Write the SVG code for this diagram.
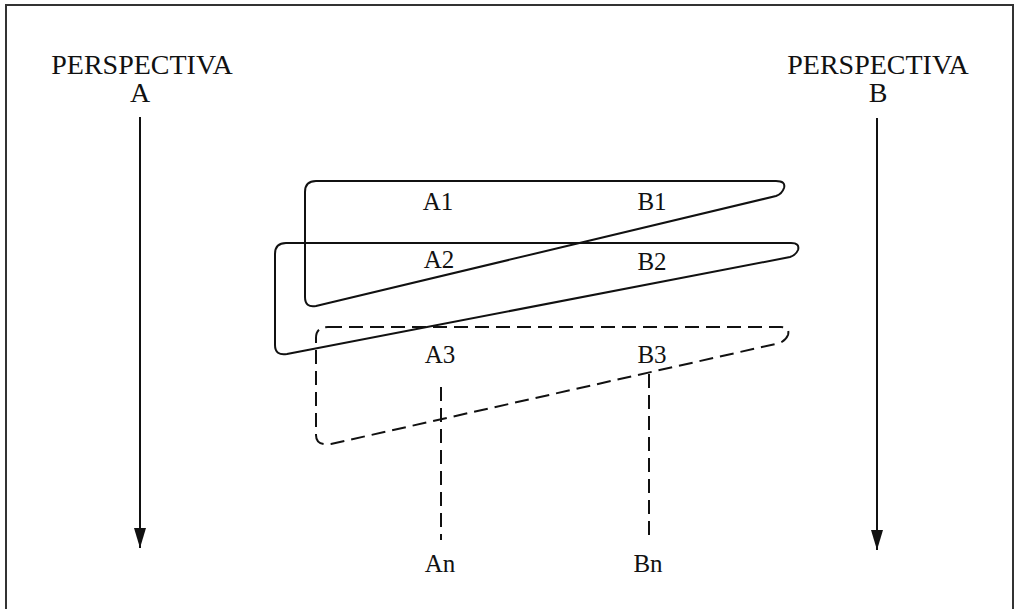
<svg xmlns="http://www.w3.org/2000/svg" width="1019" height="609" viewBox="0 0 1019 609">
<style>
  text { font-family: "Liberation Serif", "Times New Roman", serif; fill: #111; text-anchor: middle; }
  .title { font-size: 28px; }
  .lbl { font-size: 25px; }
  .solid { fill: none; stroke: #111; stroke-width: 2; stroke-linejoin: round; }
  .dash { fill: none; stroke: #111; stroke-width: 2; stroke-dasharray: 14 7; }
  .axis { stroke: #111; stroke-width: 2; }
  .frame { fill: none; stroke: #333; stroke-width: 2; }
</style>
<defs>
  <marker id="ah" viewBox="0 0 20 12" refX="20" refY="6" markerWidth="20" markerHeight="12" markerUnits="userSpaceOnUse" orient="auto">
    <path d="M0,0 L20,6 L0,12 Z" fill="#111"/>
  </marker>
</defs>
<rect width="1019" height="609" fill="#fff"/>
<path class="frame" d="M6,609 L6,5 L1013,5 L1013,609"/>

<g id="perspA">
  <text class="title" x="142" y="74">PERSPECTIVA</text>
  <text class="title" x="140" y="102">A</text>
</g>
<g id="perspB">
  <text class="title" x="878" y="74">PERSPECTIVA</text>
  <text class="title" x="878" y="102">B</text>
</g>

<g id="pair1">
  <path class="solid" d="M316,181 L776,181 Q786,181 784,188 Q782,194 776,196 L316,306 Q305,308 305,297 L305,192 Q305,181 316,181 Z"/>
  <text class="lbl" x="438" y="210">A1</text>
  <text class="lbl" x="652" y="210">B1</text>
</g>
<g id="pair2">
  <path class="solid" d="M286,243 L791,243 Q800,243 798,250 Q796,255 790,257 L287,354 Q275,356 275,345 L275,254 Q275,243 286,243 Z"/>
  <text class="lbl" x="439" y="268">A2</text>
  <text class="lbl" x="652" y="270">B2</text>
</g>
<g id="pair3">
  <path class="dash" d="M328,327 L781,327 Q790,327 788,335 Q786,340 780,343 L331,444 Q316,446 316,435 L316,338 Q316,327 328,327 Z"/>
  <text class="lbl" x="440" y="363">A3</text>
  <text class="lbl" x="652" y="363">B3</text>
</g>
<g id="An">
  <text class="lbl" x="440" y="572">An</text>
</g>
<g id="Bn">
  <text class="lbl" x="648" y="572">Bn</text>
</g>

<g id="connectors">
  <line class="axis" x1="140" y1="117" x2="140" y2="548" marker-end="url(#ah)"/>
  <line class="axis" x1="877" y1="118" x2="877" y2="550" marker-end="url(#ah)"/>
  <line class="dash" x1="441" y1="387" x2="441" y2="540"/>
  <line class="dash" x1="649" y1="374" x2="649" y2="540"/>
</g>
</svg>
